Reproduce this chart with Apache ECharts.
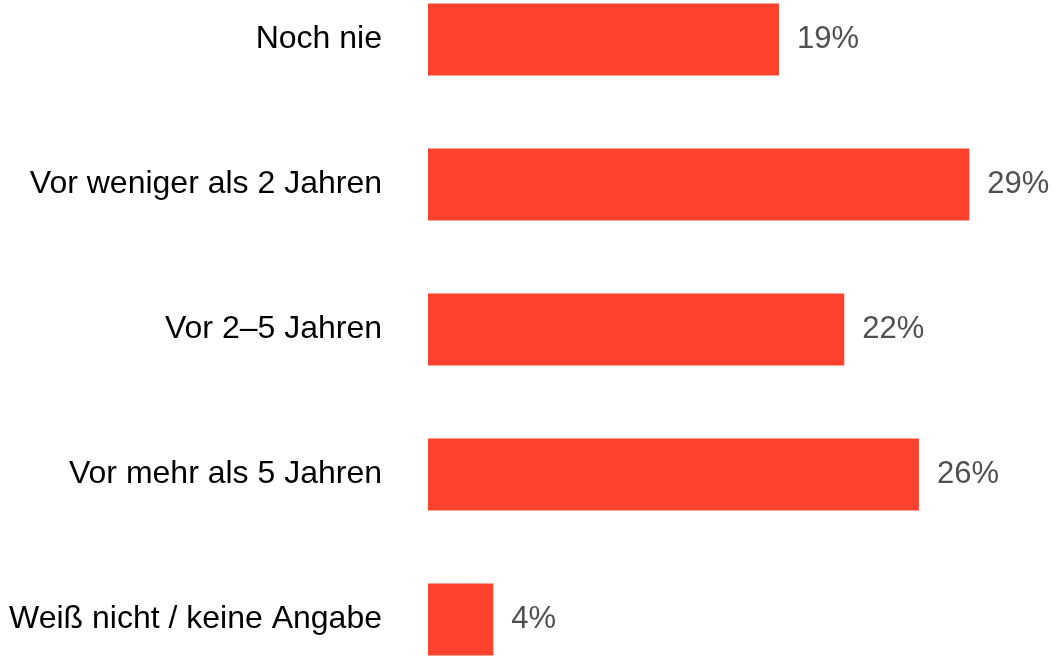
<!DOCTYPE html>
<html>
  <head>
    <meta charset="utf-8" />
    <title>Noch nie / Vor Jahren</title>
    <script src="https://cdn.jsdelivr.net/npm/echarts@6/dist/echarts.min.js"></script>
    <style>
      body {
        margin: 0;
        padding: 0;
        background: #fff;
        overflow: hidden;
      }
      #main {
        position: absolute;
        left: 0;
        top: -33px;
        width: 1056px;
        height: 725px;
      }
    </style>
  </head>
  <body>
    <div id="main"></div>
    <script type="text/javascript">
      var categories = [
        "Noch nie",
        "Vor weniger als 2 Jahren",
        "Vor 2–5 Jahren",
        "Vor mehr als 5 Jahren",
        "Weiß nicht / keine Angabe",
      ];
      var values = [18.8, 29.0, 22.3, 26.3, 3.5];
      var labels = ["19%", "29%", "22%", "26%", "4%"];

      var myChart = echarts.init(document.getElementById("main"));

      var option = {
        animation: false,
        grid: {
          left: 428,
          top: 0,
          width: 560,
          height: 725,
          containLabel: false,
        },
        xAxis: {
          type: "value",
          min: 0,
          max: 30,
          show: false,
        },
        yAxis: {
          type: "category",
          data: categories,
          inverse: true,
          axisLine: { show: false },
          axisTick: { show: false },
          splitLine: { show: false },
          axisLabel: {
            margin: 46,
            fontSize: 32,
            color: "#000",
            fontFamily: "Liberation Sans, Arial, sans-serif",
          },
        },
        series: [
          {
            type: "bar",
            data: values,
            barWidth: 72,
            itemStyle: { color: "#ff422d" },
            label: {
              show: true,
              position: "right",
              distance: 18,
              fontSize: 31,
              color: "#505050",
              fontFamily: "Liberation Sans, Arial, sans-serif",
              formatter: function (p) {
                return labels[p.dataIndex];
              },
            },
          },
        ],
      };

      myChart.setOption(option);
    </script>
  </body>
</html>
